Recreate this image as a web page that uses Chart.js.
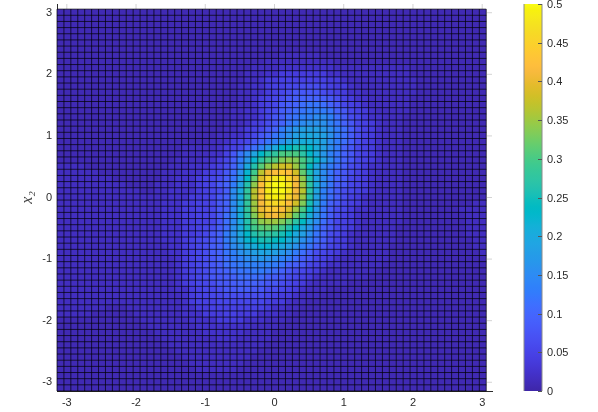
<!DOCTYPE html>
<html>
<head>
<meta charset="utf-8">
<script src="https://cdn.jsdelivr.net/npm/chart.js@4"></script>
<style>
  html, body { margin: 0; background: #fff; }
  canvas { position: absolute; left: 0; top: 0; }
</style>
</head>
<body>
<canvas id="map" width="598" height="412"></canvas>
<canvas id="bar" width="598" height="412"></canvas>
<script>
const xTicks = [-3, -2, -1, 0, 1, 2, 3]
const yTicks = [-3, -2, -1, 0, 1, 2, 3]
const barTicks = [0, 0.05, 0.1, 0.15, 0.2, 0.25, 0.3, 0.35, 0.4, 0.45, 0.5]
const axisMin = -3.1416
const axisMax = 3.1416
const cellStep = 0.1

// density in hundredths, first row is the top of the plot
const density = [
[1,1,1,1,1,1,1,1,1,1,1,1,1,1,1,1,1,1,1,1,1,1,1,1,1,1,1,1,1,1,1,1,1,1,1,1,1,1,1,1,1,1,1,1,1,1,1,1,1,1,1,1,1,1,1,1,1,1,1,1,1,1],
[1,1,1,1,1,1,1,1,1,1,1,1,1,1,1,1,1,1,1,1,1,1,1,1,1,1,1,1,1,1,1,1,1,1,1,1,1,1,1,1,1,1,1,1,1,1,1,1,1,1,1,1,1,1,1,1,1,1,1,1,1,1],
[1,1,1,1,1,1,1,1,1,1,1,1,1,1,1,1,1,1,1,1,1,1,1,1,1,1,1,1,1,1,1,1,1,1,1,1,1,1,1,1,1,1,1,1,1,1,1,1,1,1,1,1,1,1,1,1,1,1,1,1,1,1],
[1,1,1,1,1,1,1,1,1,1,1,1,1,1,1,1,1,1,1,1,1,1,1,1,1,1,1,1,1,1,1,1,1,1,1,1,1,1,1,1,1,1,1,1,1,1,1,1,1,1,1,1,1,1,1,1,1,1,1,1,1,1],
[1,1,1,1,1,1,1,1,1,1,1,1,1,1,1,1,1,1,1,1,1,1,1,1,1,1,1,1,1,1,1,1,1,1,1,1,1,1,1,1,1,1,1,1,1,1,1,1,1,1,1,1,1,1,1,1,1,1,1,1,1,1],
[1,1,1,1,1,1,1,1,1,1,1,1,1,1,1,1,1,1,1,1,1,1,1,1,1,1,1,1,1,1,1,1,1,1,1,1,1,1,1,1,1,1,1,1,1,1,1,1,1,1,1,1,1,1,1,1,1,1,1,1,1,1],
[1,1,1,1,1,1,1,1,1,1,1,1,1,1,1,1,1,1,1,1,1,1,1,1,1,1,1,1,1,1,1,1,1,1,1,1,1,1,1,1,1,1,1,1,1,1,1,1,1,1,1,1,1,1,1,1,1,1,1,1,1,1],
[1,1,1,1,1,1,1,1,1,1,1,1,1,1,1,1,1,1,1,1,1,1,1,1,1,1,1,1,1,1,1,1,2,2,2,2,2,2,1,1,1,1,1,1,1,1,1,1,1,1,1,1,1,1,1,1,1,1,1,1,1,1],
[1,1,1,1,1,1,1,1,1,1,1,1,1,1,1,1,1,1,1,1,1,1,1,1,1,1,1,1,1,1,2,2,2,2,2,2,2,2,2,2,1,1,1,1,1,1,1,1,1,1,1,1,1,1,1,1,1,1,1,1,1,1],
[1,1,1,1,1,1,1,1,1,1,1,1,1,1,1,1,1,1,1,1,1,1,1,1,1,1,1,1,2,2,2,2,3,3,3,3,3,3,3,3,2,2,2,2,2,2,2,2,2,2,2,1,1,1,1,1,1,1,1,1,1,1],
[1,1,1,1,1,1,1,1,1,1,1,1,1,1,1,1,1,1,1,1,1,1,1,1,1,1,1,2,2,2,3,3,4,4,4,4,4,4,4,3,3,2,2,2,2,2,2,2,2,2,2,1,1,1,1,1,1,1,1,1,1,1],
[1,1,1,1,1,1,1,1,1,1,1,1,1,1,1,1,1,1,1,1,1,1,1,1,1,1,1,2,2,3,4,4,5,5,5,5,5,5,5,4,4,3,2,2,2,2,2,2,2,2,2,2,1,1,1,1,1,1,1,1,1,1],
[1,1,1,1,1,1,1,1,1,1,1,1,1,1,1,1,1,1,1,1,1,1,1,1,1,1,2,2,3,3,4,5,5,6,6,7,7,7,6,5,4,4,3,2,2,2,2,2,2,2,2,2,1,1,1,1,1,1,1,1,1,1],
[1,1,1,1,1,1,1,1,1,1,1,1,1,1,1,1,1,1,1,1,1,1,1,1,1,1,2,2,3,3,4,5,6,7,8,8,8,8,7,6,5,4,3,3,2,2,2,2,2,2,2,2,1,1,1,1,1,1,1,1,1,1],
[1,1,1,1,1,1,1,1,1,1,1,1,1,1,1,1,1,1,1,1,1,1,1,1,1,1,2,2,3,4,5,6,7,8,9,10,10,10,9,8,7,5,4,3,3,2,2,2,2,2,2,1,1,1,1,1,1,1,1,1,1,1],
[1,1,1,1,1,1,1,1,1,1,1,1,1,1,1,1,1,1,1,1,1,1,1,1,1,1,2,2,3,4,5,6,8,9,10,11,12,12,11,10,8,6,5,4,3,2,2,2,2,2,2,1,1,1,1,1,1,1,1,1,1,1],
[1,1,1,1,1,1,1,1,1,1,1,1,1,1,1,1,1,1,1,1,1,1,1,1,1,2,2,3,3,4,6,7,9,10,11,12,13,13,13,12,10,8,6,5,4,3,2,2,2,2,2,1,1,1,1,1,1,1,1,1,1,1],
[1,1,1,1,1,1,1,1,1,1,1,1,1,1,1,1,1,1,1,1,1,1,1,1,1,2,2,3,3,4,6,8,9,11,12,14,14,15,15,14,11,9,7,6,4,3,3,2,2,2,1,1,1,1,1,1,1,1,1,1,1,1],
[1,1,1,1,1,1,1,1,1,1,1,1,1,1,1,1,1,1,1,1,1,1,1,1,2,2,2,3,4,5,7,8,10,12,14,15,16,16,16,14,12,10,8,6,5,4,3,2,2,2,1,1,1,1,1,1,1,1,1,1,1,1],
[1,1,1,1,1,1,1,1,1,1,1,1,1,1,1,1,1,1,1,1,1,1,1,1,2,2,3,4,5,6,8,10,13,15,17,18,18,18,17,15,13,11,9,7,5,4,3,2,2,2,1,1,1,1,1,1,1,1,1,1,1,1],
[1,1,1,1,1,1,1,1,1,1,1,1,1,1,1,1,1,1,1,1,1,1,1,2,2,3,3,4,6,8,10,12,14,16,18,19,20,19,18,16,13,11,9,7,5,4,3,2,2,2,1,1,1,1,1,1,1,1,1,1,1,1],
[1,1,1,1,1,1,1,1,1,1,1,1,1,1,1,1,1,1,1,1,1,1,2,2,3,4,5,6,8,10,12,14,16,18,20,21,21,20,18,15,13,11,9,7,5,4,3,2,2,2,1,1,1,1,1,1,1,1,1,1,1,1],
[1,1,1,1,1,1,1,1,1,1,1,1,1,1,1,1,1,1,2,2,2,2,2,3,4,5,6,9,11,14,17,20,23,24,25,25,23,21,18,15,13,10,8,6,5,4,3,2,2,2,1,1,1,1,1,1,1,1,1,1,1,1],
[1,1,1,1,1,1,1,1,1,1,1,1,1,1,1,1,1,1,2,2,2,2,3,3,5,8,12,15,19,23,26,28,30,30,30,27,23,20,17,14,12,10,8,6,5,4,3,2,2,2,1,1,1,1,1,1,1,1,1,1,1,1],
[1,1,1,1,1,1,1,1,1,1,1,1,1,1,1,1,1,2,2,2,2,3,3,4,6,9,13,17,22,27,30,31,33,34,33,30,26,22,18,15,12,10,8,6,5,4,3,2,2,2,1,1,1,1,1,1,1,1,1,1,1,1],
[2,2,2,2,1,1,1,1,1,1,1,1,1,1,1,1,2,2,2,3,3,3,4,5,7,10,14,20,26,31,34,36,38,38,35,30,24,19,15,13,11,9,7,6,4,3,3,2,2,2,1,1,1,1,1,1,1,1,1,1,1,1],
[2,2,2,2,2,2,1,1,1,1,1,1,1,1,1,2,2,2,3,3,3,4,5,6,8,11,16,22,29,36,40,42,43,42,38,32,25,19,15,12,10,8,7,5,4,3,2,2,2,2,1,1,1,1,1,1,1,1,1,1,1,1],
[2,2,2,2,2,2,2,2,1,1,1,1,1,1,1,2,2,3,3,3,4,5,6,7,9,12,17,24,32,39,45,47,48,45,40,34,26,19,15,12,10,8,6,5,4,3,2,2,2,2,1,1,1,1,1,1,1,1,1,1,1,1],
[2,2,2,2,2,2,2,2,2,2,1,1,1,1,2,2,2,3,3,3,4,5,6,8,10,13,18,26,34,42,47,50,50,47,41,35,27,20,15,12,9,8,6,5,4,3,2,2,2,2,1,1,1,1,1,1,1,1,1,1,1,1],
[2,2,2,2,2,2,2,2,2,2,2,2,1,1,2,2,3,3,3,3,4,5,6,7,9,15,20,28,36,42,48,50,50,47,41,36,27,19,14,11,9,7,6,5,4,3,2,2,2,2,1,1,1,1,1,1,1,1,1,1,1,1],
[2,2,2,2,2,2,2,2,2,2,2,2,2,2,2,2,3,3,3,4,4,5,6,8,10,15,20,28,36,42,47,49,48,45,40,35,26,18,14,11,9,7,5,4,3,2,2,2,2,2,1,1,1,1,1,1,1,1,1,1,1,1],
[2,2,2,2,2,2,2,2,2,2,2,2,2,2,2,3,3,3,4,4,5,5,6,8,10,15,20,28,35,41,45,46,45,42,38,33,25,18,13,10,8,6,5,4,3,2,2,2,2,2,1,1,1,1,1,1,1,1,1,1,2,2],
[2,2,2,2,2,2,2,2,2,2,2,2,2,2,2,3,3,3,4,4,5,5,6,8,10,15,21,28,35,40,43,43,42,39,35,30,23,17,12,9,7,6,4,3,3,2,2,2,2,2,1,1,1,1,1,1,1,1,2,2,2,2],
[2,2,2,2,2,2,2,2,2,2,2,2,2,2,2,3,3,3,4,4,5,5,6,8,11,15,21,27,33,38,40,41,39,36,32,27,21,16,12,9,7,5,4,3,2,2,2,2,2,2,1,1,1,1,1,1,1,1,1,2,2,2],
[2,2,2,2,2,2,2,2,2,2,2,2,2,2,2,3,3,3,4,4,5,5,6,8,11,15,20,26,31,34,35,35,33,31,27,24,19,15,11,8,6,5,4,3,2,2,2,2,2,2,1,1,1,1,1,1,1,1,1,2,2,2],
[2,2,2,2,2,2,2,2,2,2,2,2,2,2,2,3,3,3,4,4,5,6,7,9,11,16,20,25,29,31,32,31,29,26,23,20,17,13,10,8,6,5,4,3,2,2,2,2,2,1,1,1,1,1,1,1,1,1,1,2,2,2],
[2,2,2,2,2,2,2,2,2,2,2,2,2,2,2,3,3,3,4,4,5,6,8,10,13,16,20,23,26,28,28,27,25,23,20,18,15,12,10,7,6,4,3,2,2,2,2,2,2,1,1,1,1,1,1,1,1,1,1,2,2,2],
[2,2,2,2,2,2,2,2,2,2,2,2,2,2,2,3,3,3,4,5,6,7,8,10,13,16,19,22,24,25,25,24,23,21,19,16,14,11,9,7,5,4,3,2,2,2,2,2,2,1,1,1,1,1,1,1,1,1,1,1,2,2],
[2,2,2,2,2,2,2,2,2,2,2,2,2,2,2,2,3,3,4,5,6,7,9,10,12,15,17,20,21,22,22,21,20,18,16,14,12,10,8,6,5,4,3,2,2,2,2,2,1,1,1,1,1,1,1,1,1,1,1,1,2,2],
[2,2,2,2,2,2,2,2,2,2,2,2,2,2,2,2,3,3,4,5,6,7,9,10,12,14,16,17,18,19,19,18,17,15,13,11,9,7,6,5,4,3,2,2,2,2,2,2,1,1,1,1,1,1,1,1,1,1,1,1,1,2],
[2,2,2,2,2,2,2,2,2,2,2,2,2,2,2,2,2,3,4,5,6,7,8,10,11,13,14,15,16,17,16,15,14,13,11,9,8,6,5,4,3,2,2,2,2,2,2,2,1,1,1,1,1,1,1,1,1,1,1,1,1,1],
[2,2,2,2,2,2,2,2,2,2,2,2,2,2,2,2,2,3,4,5,6,7,8,9,11,12,13,14,14,14,14,13,12,10,9,8,6,5,4,3,3,2,2,2,2,2,2,1,1,1,1,1,1,1,1,1,1,1,1,1,1,1],
[2,2,2,2,2,2,2,2,2,2,2,2,2,2,2,2,2,3,4,5,6,7,8,9,10,11,12,12,13,13,12,11,10,8,7,6,5,4,3,2,2,2,2,2,2,2,1,1,1,1,1,1,1,1,1,1,1,1,1,1,1,1],
[2,2,2,2,2,2,2,2,2,2,2,2,2,2,2,2,2,3,4,5,6,7,8,8,9,10,11,11,11,11,10,9,8,7,6,5,4,3,2,2,2,2,2,2,2,1,1,1,1,1,1,1,1,1,1,1,1,1,1,1,1,1],
[2,2,2,2,2,2,2,2,2,2,2,2,2,2,2,2,2,3,4,5,6,6,7,8,8,9,10,10,10,9,8,8,7,6,5,4,3,2,2,2,2,2,1,1,1,1,1,1,1,1,1,1,1,1,1,1,1,1,1,1,1,1],
[2,2,2,2,2,2,2,2,2,2,2,2,2,2,2,2,2,3,3,4,5,6,6,7,8,8,9,9,8,8,7,7,6,5,4,3,2,2,2,1,1,1,1,1,1,1,1,1,1,1,1,1,1,1,1,1,1,1,1,1,1,1],
[2,2,2,2,2,2,2,2,2,2,2,2,2,2,2,2,2,2,3,4,5,5,6,6,7,7,7,7,7,7,6,5,4,4,3,2,2,2,1,1,1,1,1,1,1,1,1,1,1,1,1,1,1,1,1,1,1,1,1,1,1,1],
[2,2,2,2,2,2,2,2,2,2,2,2,2,2,2,2,2,2,3,4,5,5,5,6,6,6,6,6,6,6,5,4,4,3,2,2,1,1,1,1,1,1,1,1,1,1,1,1,1,1,1,1,1,1,1,1,1,1,1,1,1,1],
[2,2,2,2,2,2,2,1,1,1,2,2,2,2,2,2,2,2,3,3,4,4,5,5,5,5,5,5,5,5,4,3,3,2,2,1,1,1,1,1,1,1,1,1,1,1,1,1,1,1,1,1,1,1,1,1,1,1,1,1,1,1],
[2,2,2,2,2,1,1,1,1,1,1,2,2,2,2,2,2,2,3,3,3,4,4,4,5,5,4,4,4,3,3,3,2,2,1,1,1,1,1,1,1,1,1,1,1,1,1,1,1,1,1,1,1,1,1,1,1,1,1,1,1,1],
[1,1,1,1,1,1,1,1,1,1,1,1,2,2,2,2,2,2,2,3,3,3,3,4,4,4,4,3,3,3,2,2,2,1,1,1,1,1,1,1,1,1,1,1,1,1,1,1,1,1,1,1,1,1,1,1,1,1,1,1,1,1],
[1,1,1,1,1,1,1,1,1,1,1,1,1,2,2,2,2,2,2,2,3,3,3,3,3,3,3,3,2,2,2,2,1,1,1,1,1,1,1,1,1,1,1,1,1,1,1,1,1,1,1,1,1,1,1,1,1,1,1,1,1,1],
[1,1,1,1,1,1,1,1,1,1,1,1,1,1,2,2,2,2,2,2,2,3,3,3,3,3,3,2,2,2,2,1,1,1,1,1,1,1,1,1,1,1,1,1,1,1,1,1,1,1,1,1,1,1,1,1,1,1,1,1,1,1],
[1,1,1,1,1,1,1,1,1,1,1,1,1,1,1,2,2,2,2,2,2,2,2,3,3,3,2,2,2,2,2,1,1,1,1,1,1,1,1,1,1,1,1,1,1,1,1,1,1,1,1,1,1,1,1,1,1,1,1,1,1,1],
[1,1,1,1,1,1,1,1,1,1,1,1,1,1,1,1,2,2,2,2,2,2,2,2,2,2,2,2,2,2,1,1,1,1,1,1,1,1,1,1,1,1,1,1,1,1,1,1,1,1,1,1,1,1,1,1,1,1,1,1,1,1],
[1,1,1,1,1,1,1,1,1,1,1,1,1,1,1,1,1,2,2,2,2,2,2,2,2,2,2,2,2,1,1,1,1,1,1,1,1,1,1,1,1,1,1,1,1,1,1,1,1,1,1,1,1,1,1,1,1,1,1,1,1,1],
[1,1,1,1,1,1,1,1,1,1,1,1,1,1,1,1,1,1,2,2,2,2,2,2,2,2,2,2,1,1,1,1,1,1,1,1,1,1,1,1,1,1,1,1,1,1,1,1,1,1,1,1,1,1,1,1,1,1,1,1,1,1],
[1,1,1,1,1,1,1,1,1,1,1,1,1,1,1,1,1,1,1,2,2,2,2,2,2,2,2,1,1,1,1,1,1,1,1,1,1,1,1,1,1,1,1,1,1,1,1,1,1,1,1,1,1,1,1,1,1,1,1,1,1,1],
[1,1,1,1,1,1,1,1,1,1,1,1,1,1,1,1,1,1,1,1,2,2,2,2,2,2,1,1,1,1,1,1,1,1,1,1,1,1,1,1,1,1,1,1,1,1,1,1,1,1,1,1,1,1,1,1,1,1,1,1,1,1],
[1,1,1,1,1,1,1,1,1,1,1,1,1,1,1,1,1,1,1,1,1,1,1,1,1,1,1,1,1,1,1,1,1,1,1,1,1,1,1,1,1,1,1,1,1,1,1,1,1,1,1,1,1,1,1,1,1,1,1,1,1,1],
[1,1,1,1,1,1,1,1,1,1,1,1,1,1,1,1,1,1,1,1,1,1,1,1,1,1,1,1,1,1,1,1,1,1,1,1,1,1,1,1,1,1,1,1,1,1,1,1,1,1,1,1,1,1,1,1,1,1,1,1,1,1],
[1,1,1,1,1,1,1,1,1,1,1,1,1,1,1,1,1,1,1,1,1,1,1,1,1,1,1,1,1,1,1,1,1,1,1,1,1,1,1,1,1,1,1,1,1,1,1,1,1,1,1,1,1,1,1,1,1,1,1,1,1,1]
]

const parula = [
[.2422,.1504,.6603],[.2504,.1650,.7076],[.2578,.1818,.7511],[.2647,.1978,.7952],[.2706,.2147,.8364],[.2751,.2342,.8710],[.2783,.2559,.8991],[.2803,.2782,.9221],
[.2813,.3006,.9414],[.2810,.3228,.9579],[.2795,.3447,.9717],[.2760,.3667,.9829],[.2699,.3892,.9906],[.2602,.4123,.9952],[.2440,.4358,.9988],[.2206,.4603,.9973],
[.1963,.4847,.9892],[.1834,.5074,.9798],[.1786,.5289,.9682],[.1764,.5499,.9520],[.1687,.5703,.9359],[.1540,.5902,.9218],[.1460,.6091,.9079],[.1380,.6276,.8973],
[.1248,.6459,.8883],[.1113,.6635,.8763],[.0952,.6798,.8598],[.0689,.6948,.8394],[.0297,.7082,.8163],[.0036,.7203,.7917],[.0067,.7312,.7660],[.0433,.7411,.7394],
[.0964,.7500,.7120],[.1408,.7584,.6842],[.1717,.7670,.6554],[.1938,.7758,.6251],[.2161,.7843,.5923],[.2470,.7918,.5567],[.2906,.7973,.5188],[.3406,.8008,.4789],
[.3909,.8029,.4354],[.4456,.8024,.3909],[.5044,.7993,.3480],[.5616,.7942,.3045],[.6174,.7876,.2612],[.6720,.7793,.2227],[.7242,.7698,.1910],[.7738,.7598,.1646],
[.8203,.7498,.1535],[.8634,.7406,.1596],[.9035,.7330,.1774],[.9393,.7288,.2100],[.9728,.7298,.2394],[.9956,.7434,.2371],[.9970,.7659,.2199],[.9952,.7861,.1991],
[.9892,.8066,.1778],[.9786,.8271,.1633],[.9676,.8481,.1475],[.9610,.8705,.1361],[.9597,.8949,.1183],[.9628,.9207,.0948],[.9691,.9469,.0559],[.9769,.9839,.0805]
]
const toColor = c => `rgb(${c.map(v => Math.round(v * 255)).join(",")})`
const colorOf = v => toColor(parula[Math.min(63, Math.floor(v / 0.5 * 64))])

const inkColor = "#2b2b2b"
const tickFont = { family: "'Liberation Sans', Arial, sans-serif", size: 11 }

// chart area is pinned so axes line up with the picture
const pinY = width => s => { s.width = width; s.paddingTop = 0; s.paddingBottom = 0; s.paddingLeft = 0; s.paddingRight = 0 }
const pinX = height => s => { s.height = height; s.paddingTop = 0; s.paddingBottom = 0; s.paddingLeft = 0; s.paddingRight = 0 }

const points = []
density.forEach((row, r) => row.forEach((v, c) => {
    points.push({ x: axisMin + cellStep * (c + 0.5), y: axisMin + cellStep * (density.length - r - 0.5), v: v / 100 })
}))

const cellsPlugin = {
    id: "cells",
    beforeDatasetsDraw(chart) {
        const { ctx, scales: { x, y } } = chart
        const nx = density[0].length, ny = density.length
        const left = x.getPixelForValue(axisMin), right = x.getPixelForValue(axisMin + nx * cellStep)
        const bottom = y.getPixelForValue(axisMin), top = y.getPixelForValue(axisMin + ny * cellStep)
        ctx.save()

        // only the parts of the ticks in the gap beside the cells show
        ctx.strokeStyle = "#d4d4d4"
        ctx.lineWidth = 1
        ctx.beginPath()
        x.ticks.forEach(t => { const p = x.getPixelForValue(t.value); ctx.moveTo(p, chart.chartArea.top); ctx.lineTo(p, chart.chartArea.top + 5) })
        y.ticks.forEach(t => { const p = y.getPixelForValue(t.value); ctx.moveTo(chart.chartArea.right, p); ctx.lineTo(chart.chartArea.right - 5, p) })
        ctx.stroke()

        ctx.save()
        ctx.beginPath()
        ctx.rect(left, top, right - left, bottom - top)
        ctx.clip()
        const w = x.getPixelForValue(axisMin + cellStep) - left
        const h = y.getPixelForValue(axisMin) - y.getPixelForValue(axisMin + cellStep)
        chart.data.datasets[0].data.forEach(p => {
            ctx.fillStyle = colorOf(p.v)
            ctx.fillRect(x.getPixelForValue(p.x) - w / 2, y.getPixelForValue(p.y) - h / 2, w + 0.6, h + 0.6)
        })
        ctx.restore()

        ctx.strokeStyle = "#000"
        ctx.lineWidth = 0.7
        ctx.beginPath()
        for (let i = 0; i <= nx; i++) {
            const p = x.getPixelForValue(axisMin + i * cellStep)
            ctx.moveTo(p, top); ctx.lineTo(p, bottom)
        }
        for (let j = 0; j <= ny; j++) {
            const p = y.getPixelForValue(axisMin + j * cellStep)
            ctx.moveTo(left, p); ctx.lineTo(right, p)
        }
        ctx.stroke()
        ctx.restore()
    }
}

new Chart(document.getElementById("map").getContext("2d"), {
    type: "scatter",
    data: { datasets: [{ data: points, pointRadius: 0, pointHoverRadius: 0 }] },
    plugins: [cellsPlugin],
    options: {
        responsive: false,
        animation: false,
        events: [],
        layout: { padding: { left: 0, right: 106, top: 4, bottom: 0 } },
        plugins: { legend: { display: false }, tooltip: { enabled: false } },
        scales: {
            x: {
                type: "linear",
                min: axisMin,
                max: axisMax,
                afterBuildTicks: s => { s.ticks = xTicks.map(value => ({ value })) },
                afterFit: pinX(21),
                grid: { display: false, drawTicks: false, tickLength: 0 },
                border: { color: inkColor, width: 1 },
                ticks: { font: tickFont, color: inkColor, padding: 5, maxRotation: 0, autoSkip: false, callback: v => String(v) }
            },
            y: {
                type: "linear",
                min: axisMin,
                max: axisMax,
                afterBuildTicks: s => { s.ticks = yTicks.map(value => ({ value })) },
                afterFit: pinY(57),
                grid: { display: false, drawTicks: false, tickLength: 0 },
                border: { color: inkColor, width: 1 },
                title: {
                    display: true,
                    text: "x₂",
                    color: "#444",
                    font: { family: "'Liberation Serif', serif", style: "italic", size: 16 },
                    padding: { top: 18, bottom: 0 }
                },
                ticks: { font: tickFont, color: inkColor, padding: 5, autoSkip: false, callback: v => String(v) }
            }
        }
    }
})

// colour bar is one floating bar filled with the palette
const barRange = [0, 0.5]
const barFill = ctx => {
    const a = ctx.chart.chartArea
    if (!a) return toColor(parula[0])
    const g = ctx.chart.ctx.createLinearGradient(0, a.bottom, 0, a.top)
    parula.forEach((c, i) => g.addColorStop(i / (parula.length - 1), toColor(c)))
    return g
}
const barPlugin = {
    id: "barFrame",
    afterDatasetsDraw(chart) {
        const { ctx, chartArea: a, scales: { y } } = chart
        ctx.save()
        ctx.strokeStyle = "#8a8a8a"
        ctx.lineWidth = 1
        ctx.beginPath()
        ctx.moveTo(a.left, a.top); ctx.lineTo(a.left, a.bottom)
        ctx.moveTo(a.right, a.top); ctx.lineTo(a.right, a.bottom)
        ctx.stroke()
        ctx.strokeStyle = "#555"
        ctx.beginPath()
        y.ticks.forEach(t => {
            const p = Math.round(y.getPixelForValue(t.value)) + 0.5
            ctx.moveTo(a.right, p); ctx.lineTo(a.right - 4, p)
        })
        ctx.stroke()
        ctx.restore()
    }
}

new Chart(document.getElementById("bar").getContext("2d"), {
    type: "bar",
    data: {
        labels: [""],
        datasets: [{ data: [barRange], backgroundColor: barFill, borderWidth: 0, barPercentage: 1, categoryPercentage: 1 }]
    },
    plugins: [barPlugin],
    options: {
        responsive: false,
        animation: false,
        events: [],
        layout: { padding: { left: 524, right: 0, top: 4, bottom: 21 } },
        plugins: { legend: { display: false }, tooltip: { enabled: false } },
        scales: {
            x: { display: false },
            y: {
                position: "right",
                min: 0,
                max: 0.5,
                afterBuildTicks: s => { s.ticks = barTicks.map(value => ({ value })) },
                afterFit: pinY(56),
                grid: { display: false, drawTicks: false, tickLength: 0 },
                border: { display: false },
                ticks: { font: tickFont, color: inkColor, padding: 5, labelOffset: 1, autoSkip: false, callback: v => String(v) }
            }
        }
    }
})
</script>
</body>
</html>
